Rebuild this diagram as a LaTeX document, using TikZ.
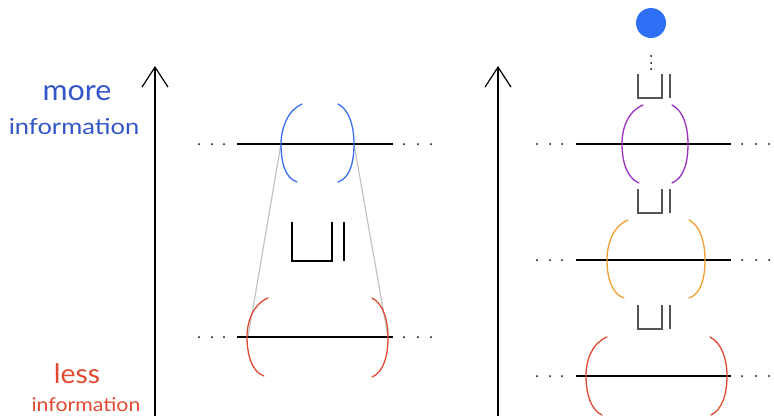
\documentclass[tikz,border=0pt]{standalone}
\usepackage{fontspec}
\setmainfont{Lato}
\usetikzlibrary{arrows.meta}
\definecolor{txtblue}{HTML}{3355C8}
\definecolor{pblue}{HTML}{3A70F0}
\definecolor{cblue}{HTML}{2F6FF5}
\definecolor{pred}{HTML}{E04A32}
\definecolor{ppurple}{HTML}{9B30C0}
\definecolor{porange}{HTML}{F0A030}
\definecolor{pgray}{HTML}{C4C4C4}
\definecolor{symgray}{HTML}{555555}
\tikzset{
  axis/.style={line width=1.2pt, -{Straight Barb[length=20pt,width=26pt,line width=1.2pt]}},
  level/.style={line width=1.4pt, black},
  paren/.style={line width=1.3pt, line cap=round},
  glink/.style={line width=1.2pt, pgray},
  sym/.style={line width=1.3pt},
  dotmark/.style={circle, fill=black, inner sep=0pt, minimum size=2pt},
}
\begin{document}
\begin{tikzpicture}[x=1pt,y=-1pt]
\useasboundingbox (0,0) rectangle (774,416);
% axes
\coordinate (la0) at (155,416); \coordinate (la1) at (155,66);
\coordinate (ra0) at (498,416); \coordinate (ra1) at (498,66);
\draw[axis] (la0) -- (la1);
\draw[axis] (ra0) -- (ra1);
% labels
\node[txtblue, font=\fontsize{29}{31}\selectfont, anchor=base, inner sep=0pt] (more) at (77,100) {\scalebox{1.05}[1]{more}};
\node[txtblue, font=\fontsize{22}{24}\selectfont, anchor=base, inner sep=0pt] (minfo) at (74,134) {\scalebox{1.16}[1]{information}};
\node[pred, font=\fontsize{27}{29}\selectfont, anchor=base, inner sep=0pt] (less) at (77,383) {\scalebox{1.05}[1]{less}};
\node[pred, font=\fontsize{19}{21}\selectfont, anchor=base, inner sep=0pt] (linfo) at (86,411) {\scalebox{1.12}[1]{information}};
% ---------- left diagram ----------
\coordinate (t0) at (237,144); \coordinate (t1) at (393,144);
\coordinate (b0) at (237,337); \coordinate (b1) at (393,337);
% gray links
\coordinate (gtl) at (281,144); \coordinate (gtr) at (354,144);
\coordinate (gbl) at (248,337); \coordinate (gbr) at (388,337);
\draw[glink] (gtl) -- (gbl);
\draw[glink] (gtr) -- (gbr);
\draw[level] (t0) -- (t1);
\draw[level] (b0) -- (b1);
% blue parens
\draw[paren,pblue] (302,104) .. controls (288,110) and (281,128) .. (281,144) .. controls (281,162) and (285,178) .. (297,182);
\draw[paren,pblue] (338,104) .. controls (350,110) and (354,128) .. (354,144) .. controls (354,162) and (350,178) .. (338,182);
% red parens
\draw[paren,pred] (268,298) .. controls (253,304) and (247,322) .. (247,337) .. controls (247,355) and (252,372) .. (264,376);
\draw[paren,pred] (372,298) .. controls (384,304) and (388,322) .. (388,337) .. controls (388,355) and (384,372) .. (372,377);
% symbol
\draw[sym,black] (292,222) -- (292,261) -- (332,261) -- (332,222);
\draw[sym,black] (344,222) -- (344,261);
% dots
\foreach \x in {199,212,224,404,418,431} \node[dotmark] at (\x,144) {};
\foreach \x in {199,212,224,404,418,431} \node[dotmark] at (\x,337) {};
% ---------- right diagram ----------
\node[circle, fill=cblue, minimum size=30pt, inner sep=0pt] (top) at (651,23) {};
\foreach \y in {56,63,69} \node[dotmark] at (651,\y) {};
\foreach \yy/\yb in {74/98,189/213,305/329}{
  \draw[sym,symgray] (638,\yy) -- (638,\yb) -- (662,\yb) -- (662,\yy);
  \draw[sym,symgray] (670,\yy) -- (670,\yb);
}
\coordinate (p0) at (576,144); \coordinate (p1) at (731,144);
\coordinate (o0) at (576,260); \coordinate (o1) at (731,260);
\coordinate (r0) at (576,376); \coordinate (r1) at (731,376);
\draw[level] (p0) -- (p1);
\draw[level] (o0) -- (o1);
\draw[level] (r0) -- (r1);
\foreach \y in {144,260,376}{
  \foreach \x in {537,550,562,742,756,769} \node[dotmark] at (\x,\y) {};
}
% purple
\draw[paren,ppurple] (643,105) .. controls (628,111) and (622,128) .. (622,144) .. controls (622,162) and (627,178) .. (639,183);
\draw[paren,ppurple] (672,105) .. controls (684,111) and (688,128) .. (688,144) .. controls (688,162) and (684,178) .. (672,183);
% orange
\draw[paren,porange] (628,220) .. controls (613,226) and (607,244) .. (607,260) .. controls (607,278) and (612,294) .. (624,298);
\draw[paren,porange] (689,220) .. controls (701,226) and (705,244) .. (705,260) .. controls (705,278) and (701,294) .. (689,298);
% red
\draw[paren,pred] (607,337) .. controls (592,343) and (586,360) .. (586,376) .. controls (586,394) and (591,410) .. (602,415);
\draw[paren,pred] (710,337) .. controls (722,343) and (727,360) .. (727,376) .. controls (727,394) and (722,410) .. (711,415);
\end{tikzpicture}
\end{document}
